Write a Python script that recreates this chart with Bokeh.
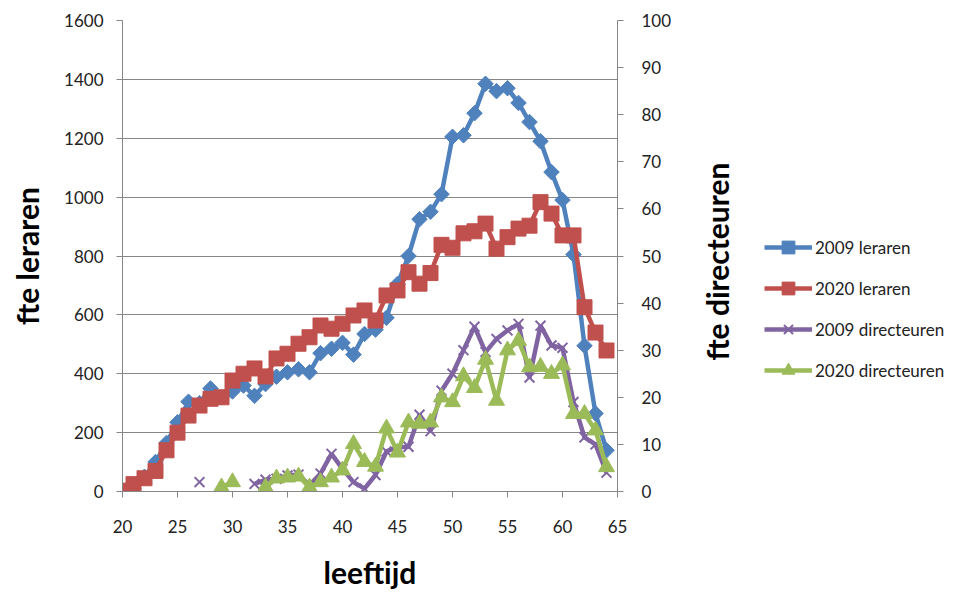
import math
from bokeh.plotting import figure
from bokeh.models import Range1d, LinearAxis, FixedTicker, Legend, Label
from bokeh.layouts import row
from bokeh.embed import file_html
from bokeh.resources import INLINE

nan = float("nan")

ages = list(range(20, 65))
x_ticks = [20, 25, 30, 35, 40, 45, 50, 55, 60, 65]
left_ticks = [0, 200, 400, 600, 800, 1000, 1200, 1400, 1600]
right_ticks = [0, 10, 20, 30, 40, 50, 60, 70, 80, 90, 100]

leraren_2009 = [0, 10, 50, 100, 165, 235, 305, 300, 350, 320, 340, 360, 325, 365, 390,
                405, 415, 405, 470, 485, 505, 465, 535, 550, 590, 705, 800, 925, 950, 1010,
                1205, 1210, 1285, 1385, 1360, 1370, 1320, 1255, 1190, 1085, 990, 805, 495, 265, 140]
leraren_2020 = [3, 25, 45, 70, 140, 200, 258, 292, 315, 320, 377, 400, 418, 391, 452,
                468, 502, 524, 564, 553, 570, 598, 615, 581, 666, 683, 745, 706, 742, 838,
                828, 877, 884, 910, 825, 864, 893, 903, 983, 944, 870, 870, 626, 540, 479]
directeuren_2009 = [nan, nan, nan, nan, nan, nan, nan, 2, nan, nan, nan, nan, 1.6, 2.5, 2.7,
                    3.4, 3.6, 1.3, 3.8, 8, 4.8, 2, 0.6, 3.5, 8.5, 9.4, 9.5, 16.3, 12.8, 21.4,
                    25, 30, 35, 29.6, 32.4, 34.2, 35.6, 24.2, 35.2, 31, 30.5, 19, 11.5, 10, 4]
directeuren_2020 = [nan, nan, nan, nan, nan, nan, nan, nan, nan, 0.9, 2, nan, nan, 0.9, 2.8,
                    3, 3.2, 0.9, 2, 3, 4.5, 10.1, 6.3, 5.3, 13.4, 8.3, 14.7, 14.4, 14.7, 20,
                    19, 24.5, 22, 28, 19.3, 30, 32, 26.4, 26.5, 25, 26.8, 16.5, 16.5, 13, 5.2]
series_names = ["2009 leraren", "2020 leraren", "2009 directeuren", "2020 directeuren"]
right_title = "fte directeuren"

FONT = "Lato"
GRID = "#868686"
TXT = "#222222"
BLUE, RED, PURPLE, GREEN = "#4F81BD", "#C0504D", "#8064A2", "#9BBB59"
LW = 4.5

MAIN_W = 690
p = figure(width=MAIN_W, height=592, output_backend="svg", toolbar_location=None,
           x_range=Range1d(20, 65), y_range=Range1d(0, 1600),
           min_border_left=122, min_border_right=MAIN_W - 617, min_border_top=20,
           min_border_bottom=101)
p.extra_y_ranges = {"dir": Range1d(0, 100)}
p.outline_line_color = None
p.xgrid.grid_line_color = None
p.ygrid.grid_line_color = GRID
p.ygrid.grid_line_width = 1
p.ygrid.ticker = FixedTicker(ticks=left_ticks)

def style_axis(ax):
    ax.axis_line_color = GRID
    ax.axis_line_width = 1
    ax.major_tick_line_color = GRID
    ax.major_tick_out = 6
    ax.major_tick_in = 0
    ax.minor_tick_line_color = None
    ax.major_label_text_font = FONT
    ax.major_label_text_font_size = "17px"
    ax.major_label_text_color = TXT
    ax.axis_label_text_font = FONT
    ax.axis_label_text_font_size = "30px"
    ax.axis_label_text_font_style = "bold"
    ax.axis_label_text_color = "#000000"

xa = p.xaxis[0]
style_axis(xa)
xa.ticker = FixedTicker(ticks=x_ticks)
xa.axis_label = "leeftijd"
xa.major_label_standoff = 22
xa.axis_label_standoff = 18

ya = p.yaxis[0]
style_axis(ya)
ya.ticker = FixedTicker(ticks=left_ticks)
ya.axis_label = "fte leraren"
ya.major_label_standoff = 13
ya.axis_label_standoff = 16

ra = LinearAxis(y_range_name="dir", ticker=FixedTicker(ticks=right_ticks))
style_axis(ra)
ra.major_label_standoff = 18
p.add_layout(ra, "right")

p.line(ages, leraren_2009, line_color=BLUE, line_width=LW)
p.scatter(ages, leraren_2009, marker="square", angle=math.pi / 4, size=11,
          fill_color=BLUE, line_color=BLUE)
p.line(ages, leraren_2020, line_color=RED, line_width=LW)
p.scatter(ages, leraren_2020, marker="square", size=15, fill_color=RED, line_color=RED)
p.line(ages, directeuren_2009, line_color=PURPLE, line_width=LW, y_range_name="dir")
p.scatter(ages, directeuren_2009, marker="x", size=14, line_color=PURPLE, line_width=2,
          y_range_name="dir")
p.line(ages, directeuren_2020, line_color=GREEN, line_width=LW, y_range_name="dir")
p.scatter(ages, directeuren_2020, marker="triangle", size=16, fill_color=GREEN,
          line_color=GREEN, y_range_name="dir")

# side panel figure: right axis title + legend (legend glyphs sit outside its visible range)
# its frame is aligned with the main frame by the row layout (bottom at y=491)
SIDE_W = 974 - MAIN_W
q = figure(width=SIDE_W, height=592, output_backend="svg", toolbar_location=None,
           x_range=Range1d(0, 1), y_range=Range1d(0, 1),
           min_border=0, min_border_left=0, min_border_right=0, min_border_top=0,
           min_border_bottom=0)
q.axis.visible = False
q.grid.visible = False
q.outline_line_color = None

q.add_layout(Label(x=716 - MAIN_W, y=491 - 360, x_units="screen", y_units="screen",
                   text=right_title, angle=math.pi / 2, text_align="left",
                   text_baseline="middle", text_font=FONT, text_font_size="30px",
                   text_font_style="bold", text_color="#000000"))

specs = [
    (BLUE, dict(marker="square", angle=math.pi / 4, size=9, fill_color=BLUE, line_color=BLUE)),
    (RED, dict(marker="square", size=13, fill_color=RED, line_color=RED)),
    (PURPLE, dict(marker="x", size=13, line_color=PURPLE, line_width=2)),
    (GREEN, dict(marker="triangle", size=14, fill_color=GREEN, line_color=GREEN)),
]
items = []
for name, (col, mk) in zip(series_names, specs):
    lr = q.line([5, 6], [5, 6], line_color=col, line_width=LW)
    sr = q.scatter([5], [5], **mk)
    items.append((name, [lr, sr]))

legend = Legend(items=items, location=(764 - MAIN_W, 105), orientation="vertical")
legend.glyph_width = 48
legend.glyph_height = 32
legend.label_height = 32
legend.spacing = 9
legend.padding = 0
legend.margin = 0
legend.label_standoff = 3
legend.border_line_color = None
legend.background_fill_alpha = 0
legend.label_text_font = FONT
legend.label_text_font_size = "17px"
legend.label_text_color = TXT
q.add_layout(legend, "center")

layout = row(p, q)
open("out.html", "w").write(file_html(layout, INLINE))
